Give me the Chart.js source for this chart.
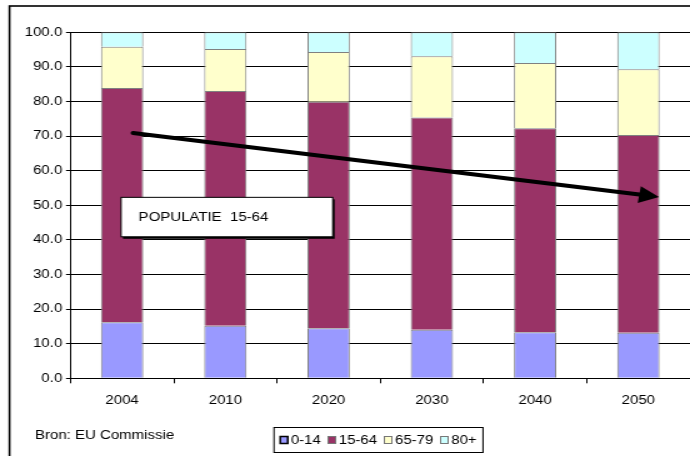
<!DOCTYPE html>
<html>
<head>
<meta charset="utf-8">
<script src="https://cdn.jsdelivr.net/npm/chart.js@4.4.1/dist/chart.umd.min.js"></script>
<style>
    html, body { margin: 0; padding: 0; background: #fff; overflow: hidden; }
    /* the original picture is stretched sideways, so the canvas is too */
    #wrap { width: 552px; height: 456px; transform: scaleX(1.25); transform-origin: 0 0; }
</style>
</head>
<body>
<div id="wrap"><canvas id="popChart" width="552" height="456"></canvas></div>
<script>
// Data (share of population, %)
const years = ['2004', '2010', '2020', '2030', '2040', '2050'];
const age0_14 = [16.2, 15.2, 14.5, 14.0, 13.3, 13.2];
const age15_64 = [67.7, 67.8, 65.4, 61.4, 59.0, 57.1];
const age65_79 = [11.9, 12.2, 14.4, 17.7, 18.8, 19.0];
const age80plus = [4.2, 4.8, 5.7, 6.9, 8.9, 10.7];
const seriesNames = ['0-14', '15-64', '65-79', '80+'];
const yTicks = [0, 10, 20, 30, 40, 50, 60, 70, 80, 90, 100];

// Annotation, in axis units (category index, percent)
const arrowStart = [0.106, 70.9];
const arrowEnd = [5.2, 52.4];
const labelBoxX = [-0.01, 2.04];
const labelBoxY = [40.9, 52.3];
const labelText = 'POPULATIE  15-64';
const sourceText = 'Bron: EU Commissie';

const FONT = '"Liberation Sans", Arial, sans-serif';
const colors = ['#9999ff', '#993366', '#ffffcc', '#ccffff'];

const extras = {
    id: 'extras',
    beforeDraw(chart) {
        const ctx = chart.ctx;
        ctx.save();
        ctx.fillStyle = '#fff';
        ctx.fillRect(0, 0, chart.width, chart.height);
        ctx.restore();
    },
    afterDatasetsDraw(chart) {
        const ctx = chart.ctx;
        const xs = chart.scales.x, ys = chart.scales.y;
        ctx.save();

        // Text box
        const l = xs.getPixelForValue(labelBoxX[0]), r = xs.getPixelForValue(labelBoxX[1]);
        const t = ys.getPixelForValue(labelBoxY[1]), b = ys.getPixelForValue(labelBoxY[0]);
        ctx.fillStyle = '#000';
        ctx.fillRect(l + 1.5, t + 2, r - l, b - t);
        ctx.fillStyle = '#fff';
        ctx.fillRect(l, t, r - l, b - t);
        ctx.strokeStyle = '#000';
        ctx.lineWidth = 1;
        ctx.strokeRect(l, t, r - l, b - t);
        ctx.fillStyle = '#000';
        ctx.font = '12px ' + FONT;
        ctx.textBaseline = 'middle';
        ctx.fillText(labelText, l + 14, (t + b) / 2 + 0.5);

        // Arrow
        const x1 = xs.getPixelForValue(arrowStart[0]), y1 = ys.getPixelForValue(arrowStart[1]);
        const x2 = xs.getPixelForValue(arrowEnd[0]), y2 = ys.getPixelForValue(arrowEnd[1]);
        const ang = Math.atan2(y2 - y1, x2 - x1);
        const headLen = 16, headHalf = 8.5;
        const bx = x2 - headLen * Math.cos(ang), by = y2 - headLen * Math.sin(ang);
        ctx.lineWidth = 4;
        ctx.lineCap = 'round';
        ctx.beginPath();
        ctx.moveTo(x1, y1);
        ctx.lineTo(bx, by);
        ctx.stroke();
        ctx.beginPath();
        ctx.moveTo(x2, y2);
        ctx.lineTo(bx + headHalf * Math.sin(ang), by - headHalf * Math.cos(ang));
        ctx.lineTo(bx - headHalf * Math.sin(ang), by + headHalf * Math.cos(ang));
        ctx.closePath();
        ctx.fill();
        ctx.restore();
    },
    afterDraw(chart) {
        const ctx = chart.ctx;
        ctx.save();

        // Outer frame (right and bottom edges fall outside the picture)
        ctx.strokeStyle = '#000';
        ctx.lineWidth = 1.6;
        ctx.strokeRect(7.6, 6, chart.width + 20, chart.height + 20);

        // Source
        ctx.font = '12px ' + FONT;
        ctx.fillStyle = '#000';
        ctx.textBaseline = 'middle';
        ctx.fillText(sourceText, 28, 435.5);

        // Legend
        const boxL = 219.2, boxT = 427.5, boxW = 167.2, boxH = 25;
        ctx.fillStyle = '#fff';
        ctx.fillRect(boxL, boxT, boxW, boxH);
        ctx.lineWidth = 1;
        ctx.strokeStyle = '#000';
        ctx.strokeRect(boxL, boxT, boxW, boxH);
        let x = boxL + 5;
        const cy = boxT + boxH / 2;
        seriesNames.forEach((name, i) => {
            ctx.fillStyle = colors[i];
            ctx.fillRect(x, cy - 3.5, 6, 7);
            ctx.strokeStyle = i === 0 ? '#000' : '#777';
            ctx.lineWidth = i === 0 ? 1.5 : 1;
            ctx.strokeRect(x, cy - 3.5, 6, 7);
            x += 8.5;
            ctx.fillStyle = '#000';
            ctx.fillText(name, x, cy + 0.5);
            x += ctx.measureText(name).width + 5.8;
        });
        ctx.restore();
    }
};

const ctx = document.getElementById('popChart').getContext('2d');
const popChart = new Chart(ctx, {
    type: 'bar',
    data: {
        labels: years,
        datasets: [age0_14, age15_64, age65_79, age80plus].map((vals, i) => ({
            label: seriesNames[i],
            data: vals,
            backgroundColor: colors[i],
            borderColor: '#808080',
            borderWidth: 1,
            categoryPercentage: 1,
            barPercentage: 0.41
        }))
    },
    options: {
        responsive: false,
        animation: false,
        devicePixelRatio: 1,
        layout: { padding: { left: 0, top: 32.3, right: 0, bottom: 0 } },
        plugins: {
            legend: { display: false },
            tooltip: { enabled: false }
        },
        scales: {
            x: {
                stacked: true,
                afterFit(scale) { scale.height = 77.7; },
                grid: { drawOnChartArea: false, drawTicks: true, tickLength: 5, color: '#000' },
                border: { color: '#000', width: 1 },
                ticks: { color: '#000', padding: 10, font: { family: FONT, size: 12 } }
            },
            y: {
                stacked: true,
                min: 0,
                max: 100,
                afterFit(scale) { scale.width = 56.4; },
                afterBuildTicks(scale) { scale.ticks = yTicks.map(v => ({ value: v })); },
                grid: { color: '#000', lineWidth: 1, tickLength: 3.6 },
                border: { color: '#000', width: 1 },
                ticks: {
                    color: '#000',
                    padding: 3,
                    font: { family: FONT, size: 12 },
                    callback: v => v.toFixed(1)
                }
            }
        }
    },
    plugins: [extras]
});
</script>
</body>
</html>
